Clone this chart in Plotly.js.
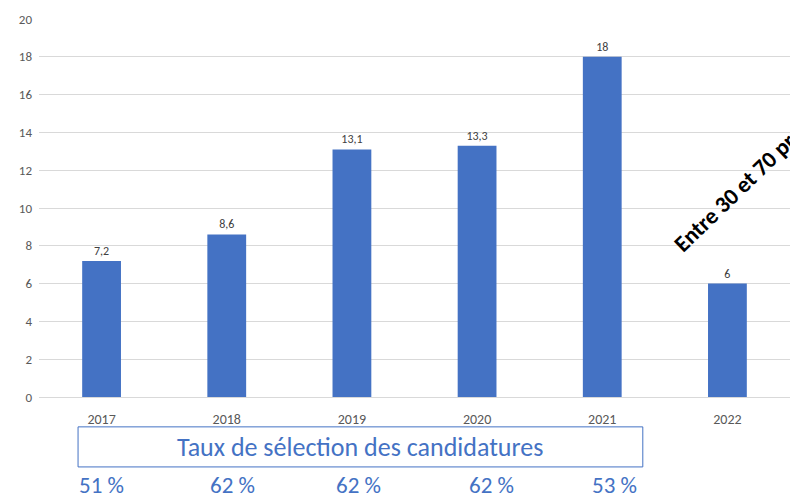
<!DOCTYPE html>
<html><head><meta charset="utf-8">
<script src="https://cdn.plot.ly/plotly-3.0.1.min.js"></script>
<style>html,body{margin:0;padding:0;background:#fff;}#chart{width:790px;height:495px;}</style>
</head><body><div id="chart"></div>
<script>
const years = ['2017','2018','2019','2020','2021','2022'];
const projects = [7.2, 8.6, 13.1, 13.3, 18, 6];
const valueLabels = ['7,2','8,6','13,1','13,3','18','6'];
const rates = ['51 %','62 %','62 %','62 %','53 %'];
const rateShift = [0, 6, 7, 14, 12];
const boxTitle = 'Taux de sélection des candidatures';
const note = 'Entre 30 et 70 projets';

const FONT = 'Carlito, Lato, sans-serif';
const BLUE = '#4472C4';

const trace = {
  type: 'bar', x: years, y: projects,
  marker: {color: BLUE},
  text: valueLabels, textposition: 'outside', cliponaxis: false,
  textfont: {family: FONT, size: 12, color: '#404040'},
  hoverinfo: 'none'
};

const annotations = rates.map((r, i) => ({
  xref: 'x', yref: 'paper', x: i, y: -0.233,
  xshift: rateShift[i], text: r, showarrow: false,
  xanchor: 'center', yanchor: 'middle',
  font: {family: FONT, size: 23, color: BLUE}
}));
annotations.push({
  xref: 'paper', yref: 'paper', x: 0.428, y: -0.132, text: boxTitle,
  showarrow: false, xanchor: 'center', yanchor: 'middle',
  font: {family: FONT, size: 26, color: BLUE}
});
annotations.push({
  xref: 'paper', yref: 'paper', x: 0.949, y: 0.584, text: '<b>' + note + '</b>',
  showarrow: false, textangle: -44, xanchor: 'center', yanchor: 'middle',
  font: {family: FONT, size: 23, color: '#000'}
});

const layout = {
  width: 790, height: 495,
  margin: {l: 39, r: 0, t: 19, b: 98},
  paper_bgcolor: '#fff', plot_bgcolor: '#fff',
  showlegend: false, bargap: 0.69,
  font: {family: FONT},
  xaxis: {type: 'category', range: [-0.5, 5.5], showgrid: false, zeroline: false, showline: false,
    ticks: '', ticklabelstandoff: 12, tickfont: {family: FONT, size: 14, color: '#595959'}},
  yaxis: {range: [0, 20], dtick: 2, showgrid: true, gridcolor: '#D9D9D9', gridwidth: 1,
    zeroline: true, zerolinecolor: '#D9D9D9', zerolinewidth: 1, showline: false, ticks: '',
    ticklabelstandoff: 6,
    tickfont: {family: FONT, size: 13, color: '#595959'}},
  shapes: [{type: 'rect', xref: 'paper', yref: 'paper', x0: 0.052, x1: 0.804,
    y0: -0.185, y1: -0.079, line: {color: BLUE, width: 1}, fillcolor: 'rgba(0,0,0,0)'}],
  annotations: annotations
};
Plotly.newPlot('chart', [trace], layout, {displayModeBar: false, staticPlot: true});
</script></body></html>
